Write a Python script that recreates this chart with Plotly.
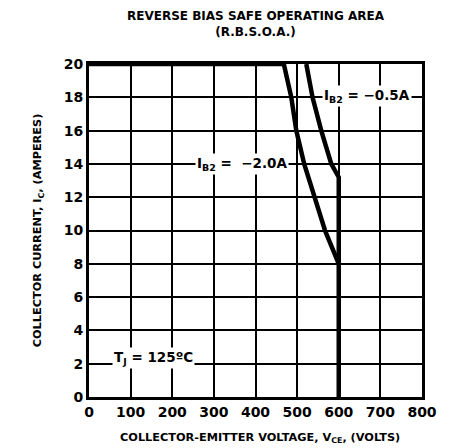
import plotly.graph_objects as go

# Curve IB2 = -2.0A (Vce volts, Ic amperes)
v_2a = [0, 468, 486, 498, 517, 541, 567, 600, 600]
i_2a = [20, 20, 18, 16, 14, 12, 10, 8, 0]
# Curve IB2 = -0.5A
v_05a = [522, 537, 558, 582, 600, 600]
i_05a = [20, 18, 16, 14, 13.2, 8]

x_ticks = [0, 100, 200, 300, 400, 500, 600, 700, 800]
y_ticks = [0, 2, 4, 6, 8, 10, 12, 14, 16, 18, 20]

FONT = "DejaVu Sans"

fig = go.Figure()
for vx, iy in [(v_2a, i_2a), (v_05a, i_05a)]:
    fig.add_trace(go.Scatter(x=vx, y=iy, mode="lines",
                             line=dict(color="black", width=4.5),
                             cliponaxis=False, showlegend=False, hoverinfo="skip"))

ann_font = dict(family=FONT, size=13.5, color="black", weight="bold")
fig.add_annotation(x=368, y=14, text="I<sub>B2</sub> =  −2.0A", showarrow=False,
                   font=ann_font, bgcolor="white", borderpad=1)
fig.add_annotation(x=669, y=18.1, text="I<sub>B2</sub> = −0.5A", showarrow=False,
                   font=ann_font, bgcolor="white", borderpad=1)
fig.add_annotation(x=154, y=2.35, text="T<sub>J</sub> = 125ºC", showarrow=False,
                   font=ann_font, bgcolor="white", borderpad=1)

title_font = dict(family=FONT, size=12, color="black", weight="bold")
fig.add_annotation(xref="paper", yref="paper", x=0.5, y=1 + (56 - 16) / 333,
                   text="REVERSE BIAS SAFE OPERATING AREA<br>(R.B.S.O.A.)",
                   showarrow=False, font=title_font, yanchor="middle")

# x-axis title placed below tick labels
fig.add_annotation(xref="paper", yref="paper", x=0.515, y=-(430 - 389) / 333,
                   text="COLLECTOR-EMITTER VOLTAGE, V<sub>CE</sub>, (VOLTS)",
                   showarrow=False, yanchor="middle",
                   font=dict(family=FONT, size=11.3, color="black", weight="bold"))

fig.update_layout(
    width=447, height=440,
    margin=dict(l=81, r=33, t=56, b=51),
    paper_bgcolor="white", plot_bgcolor="white",
    xaxis=dict(range=[0, 800], tickvals=x_ticks, ticks="", showgrid=True,
               gridcolor="black", gridwidth=1.5, zeroline=False,
               showline=True, linecolor="black", linewidth=3, mirror=True,
               automargin=False,
               tickfont=dict(family=FONT, size=14, color="black", weight="bold")),
    yaxis=dict(range=[0, 20], tickvals=y_ticks, ticks="", showgrid=True,
               gridcolor="black", gridwidth=1.5, zeroline=False,
               showline=True, linecolor="black", linewidth=3, mirror=True,
               tickfont=dict(family=FONT, size=14, color="black", weight="bold"),
               title=dict(text="COLLECTOR CURRENT, I<sub>C</sub>, (AMPERES)",
                          font=dict(family=FONT, size=11.3, color="black", weight="bold"),
                          standoff=20)),
)

fig.write_html("out.html")
